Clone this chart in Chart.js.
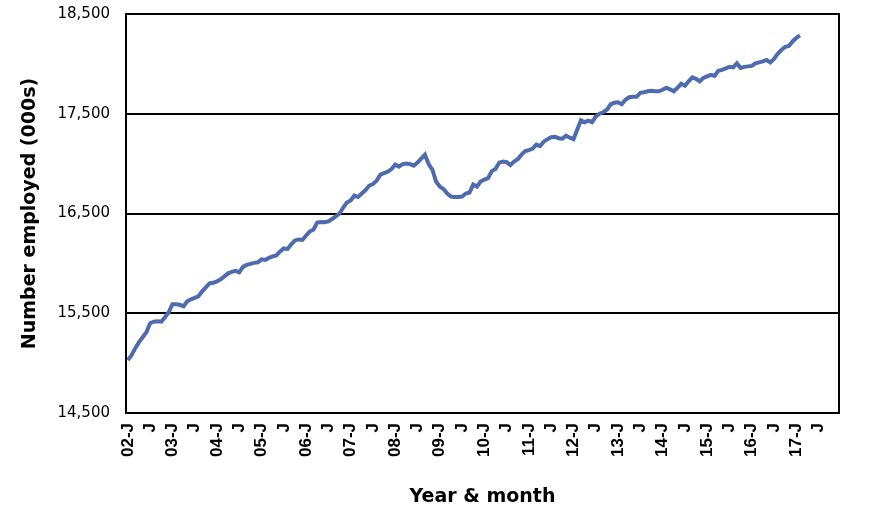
<!DOCTYPE html>
<html>
<head>
<meta charset="utf-8">
<script src="https://cdn.jsdelivr.net/npm/chart.js@4.4.1/dist/chart.umd.min.js"></script>
<style>
  html, body { margin: 0; padding: 0; background: #fff; }
  #wrap { width: 870px; height: 523px; }
</style>
</head>
<body>
<div id="wrap"><canvas id="employmentChart"></canvas></div>
<script>
// Employment, monthly, Jan 2002 onward (000s)
const startYear = 2002;
const monthCount = 192; // axis runs Jan 2002 - Dec 2017

const employed = [
  15030, 15080, 15150, 15210, 15260, 15310, 15400, 15415, 15420, 15415, 15460, 15510,
  15590, 15590, 15585, 15570, 15620, 15640, 15655, 15670, 15720, 15760, 15800, 15805,
  15820, 15840, 15870, 15900, 15915, 15925, 15910, 15965, 15985, 15995, 16005, 16010,
  16040, 16035, 16055, 16070, 16080, 16120, 16150, 16145, 16190, 16230, 16240, 16235,
  16280, 16320, 16340, 16410, 16415, 16412, 16420, 16445, 16470, 16500, 16560, 16610,
  16630, 16680, 16665, 16700, 16735, 16780, 16795, 16830, 16890, 16905, 16920, 16945,
  16990, 16970, 16995, 17000, 16995, 16980, 17010, 17050, 17090, 16995, 16940, 16820,
  16770, 16745, 16700, 16670, 16665, 16665, 16670, 16700, 16710, 16790, 16770, 16820,
  16840, 16855, 16925, 16945, 17010, 17020, 17015, 16985, 17020, 17045, 17090, 17125,
  17135, 17150, 17190, 17175, 17220, 17245, 17265, 17270, 17255, 17250, 17280, 17260,
  17245, 17340, 17435, 17415, 17430, 17415, 17470, 17500, 17515, 17540, 17595, 17610,
  17615, 17595, 17640, 17665, 17670, 17670, 17710, 17715, 17725, 17730, 17725, 17725,
  17740, 17760, 17745, 17725, 17760, 17800, 17780, 17825, 17865, 17850, 17825, 17860,
  17875, 17890, 17880, 17930, 17940, 17955, 17970, 17965, 18005, 17960, 17970, 17975,
  17980, 18005, 18015, 18025, 18040, 18015, 18050, 18100, 18140, 18170, 18180, 18225,
  18260, 18285
];

const yTicks = [14500, 15500, 16500, 17500, 18500];

// Category labels: "02-J" at each January, "J" at each July
const monthLabels = [];
for (let i = 0; i < monthCount; i++) {
  const yy = String((startYear + Math.floor(i / 12)) % 100).padStart(2, '0');
  if (i % 12 === 0) monthLabels.push(yy + '-J');
  else if (i % 12 === 6) monthLabels.push('J');
  else monthLabels.push('');
}

const seriesData = monthLabels.map((_, i) => (i < employed.length ? employed[i] : null));

const headFont = '"DejaVu Sans", "Open Sans", sans-serif';

// plot frame (top/right edges)
const framePlugin = {
  id: 'frame',
  afterDraw(chart) {
    const { ctx, chartArea: a } = chart;
    ctx.save();
    ctx.strokeStyle = '#000';
    ctx.lineWidth = 2;
    ctx.strokeRect(a.left, a.top, a.right - a.left, a.bottom - a.top);
    ctx.restore();
  }
};

new Chart(document.getElementById('employmentChart'), {
  type: 'line',
  data: {
    labels: monthLabels,
    datasets: [{
      label: 'Number employed',
      data: seriesData,
      borderColor: '#4F6BB0',
      borderWidth: 4,
      pointRadius: 0,
      tension: 0,
      spanGaps: false
    }]
  },
  options: {
    responsive: true,
    maintainAspectRatio: false,
    animation: false,
    layout: { padding: { left: 0, right: 31, top: 14, bottom: 0 } },
    plugins: { legend: { display: false }, tooltip: { enabled: false } },
    scales: {
      x: {
        offset: true,
        grid: { display: false, drawTicks: false },
        border: { display: true, color: '#000', width: 2 },
        ticks: {
          autoSkip: false,
          maxRotation: 90,
          minRotation: 90,
          padding: 10,
          color: '#000',
          font: { family: '"Liberation Sans", Arial, sans-serif', size: 17, weight: 'bold' },
          callback: (v, i) => monthLabels[i]
        },
        title: {
          display: true,
          text: 'Year & month',
          color: '#000',
          font: { family: headFont, size: 19, weight: 'bold' },
          padding: { top: 4, bottom: 15 }
        },
        afterFit: s => { s.height = 110; }
      },
      y: {
        min: 14500,
        max: 18500,
        afterBuildTicks: s => { s.ticks = yTicks.map(v => ({ value: v })); },
        grid: { color: '#000', lineWidth: 2, drawTicks: false },
        border: { display: true, color: '#000', width: 2 },
        ticks: {
          padding: 16,
          color: '#000',
          font: { family: headFont, size: 15 },
          callback: v => v.toLocaleString('en-US')
        },
        title: {
          display: true,
          text: 'Number employed (000s)',
          color: '#000',
          font: { family: headFont, size: 19, weight: 'bold' },
          padding: { top: 19, bottom: 4 }
        },
        afterFit: s => {
          s.width = 126;
          s.paddingTop = 0;
          s.paddingBottom = 0;
        }
      }
    }
  },
  plugins: [framePlugin]
});
</script>
</body>
</html>
